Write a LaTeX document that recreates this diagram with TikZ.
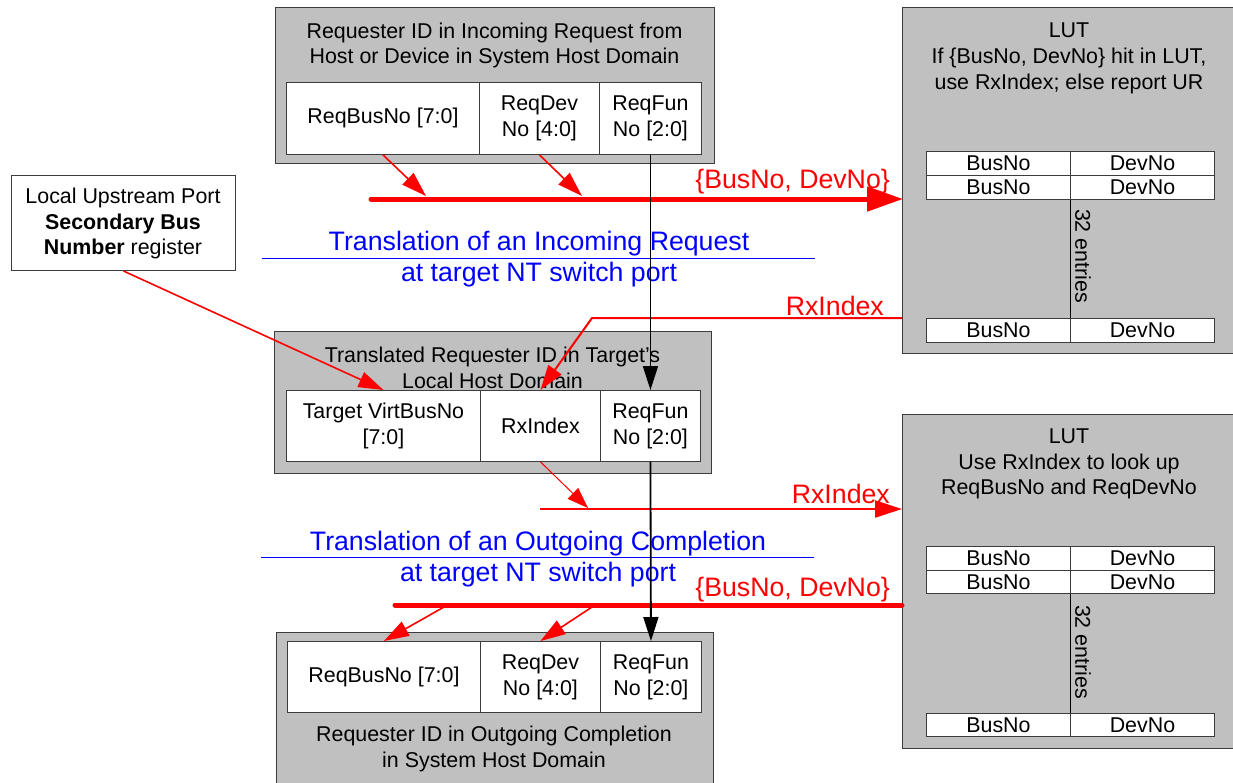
\documentclass[tikz,border=0pt]{standalone}
\usepackage{fontspec}
\setmainfont{Liberation Sans}
\usetikzlibrary{arrows.meta,calc}
\definecolor{lg}{RGB}{192,192,192}
\definecolor{bdr}{RGB}{60,60,60}
\begin{document}
\begin{tikzpicture}[x=1pt,y=-1pt,
  txt/.style={font=\fontsize{21.4}{25.8}\selectfont, align=center, inner sep=0pt},
  big/.style={font=\fontsize{26.7}{31}\selectfont, align=center, inner sep=0pt},
  graybox/.style={draw=bdr, line width=1.3pt, fill=lg, anchor=north west, inner sep=0pt},
  cell/.style={draw=bdr, line width=0.9pt, fill=white, anchor=north west, inner sep=0pt, align=center, font=\fontsize{21.4}{25.8}\selectfont},
  lutcell/.style={cell, minimum width=144pt},
  bus/.style={draw=red, line width=5pt, line cap=round},
  ra/.style={draw=red, line width=1.6pt, -{Triangle[length=25pt,width=16pt]}},
  rthin/.style={draw=red, line width=1pt, -{Triangle[length=21pt,width=15pt]}},
  blk/.style={draw=black, line width=1.8pt, -{Triangle[length=24pt,width=15pt]}},
  sep/.style={draw=blue, line width=1pt},
  redlbl/.style={big, text=red, anchor=east},
  bluelbl/.style={big, text=blue}
]
\useasboundingbox (0,0) rectangle (1233,782);
\clip (0,0) rectangle (1233,782);

% ---------- top box ----------
\node[graybox, minimum width=439pt, minimum height=156pt] (topbox) at (275,7) {};
\node[txt] (toptitle) at (494.5,45.5) {Requester ID in Incoming Request from\\Host or Device in System Host Domain};
\node[cell, minimum width=193pt, minimum height=72pt] (tBus) at (286,82) {ReqBusNo [7:0]};
\node[cell, minimum width=120pt, minimum height=72pt] (tDev) at (479,82) {ReqDev\\No [4:0]};
\node[cell, minimum width=102pt, minimum height=72pt] (tFun) at (599,82) {ReqFun\\No [2:0]};

% ---------- middle box ----------
\node[graybox, minimum width=437pt, minimum height=142pt] (midbox) at (274,331) {};
\node[txt] (midtitle) at (492.5,367.5) {Translated Requester ID in Target's\\Local Host Domain};
\node[cell, minimum width=194pt, minimum height=71pt] (mBus) at (286,390) {Target VirtBusNo\\{[7:0]}};
\node[cell, minimum width=120pt, minimum height=71pt] (mIdx) at (480,390) {RxIndex};
\node[cell, minimum width=100pt, minimum height=71pt] (mFun) at (600,390) {ReqFun\\No [2:0]};

% ---------- bottom box ----------
\node[graybox, minimum width=437pt, minimum height=200pt] (botbox) at (276,632) {};
\node[cell, minimum width=193pt, minimum height=71pt] (bBus) at (287,641) {ReqBusNo [7:0]};
\node[cell, minimum width=120pt, minimum height=71pt] (bDev) at (480,641) {ReqDev\\No [4:0]};
\node[cell, minimum width=101pt, minimum height=71pt] (bFun) at (600,641) {ReqFun\\No [2:0]};
\node[txt] (bottitle) at (494,749) {Requester ID in Outgoing Completion\\in System Host Domain};

% ---------- left register box ----------
\node[draw=bdr, line width=1pt, fill=white, anchor=north west, minimum width=224pt, minimum height=95pt, inner sep=0pt] (sec) at (11,175) {};
\node[txt] (sectxt) at (123,223.5) {Local Upstream Port\\\textbf{Secondary Bus}\\\textbf{Number} register};

% ---------- LUT 1 ----------
\node[graybox, minimum width=340pt, minimum height=346pt] (lut1) at (902,7) {};
\node[txt] (lut1title) at (1069,58.5) {LUT\\If \{BusNo, DevNo\} hit in LUT,\\use RxIndex; else report UR};
\node[lutcell, minimum height=24pt] (l1b1) at (926,151) {BusNo};
\node[lutcell, minimum height=24pt] (l1d1) at (1070,151) {DevNo};
\node[lutcell, minimum height=24pt] (l1b2) at (926,175) {BusNo};
\node[lutcell, minimum height=24pt] (l1d2) at (1070,175) {DevNo};
\node[lutcell, minimum height=24pt] (l1b3) at (926,318) {BusNo};
\node[lutcell, minimum height=24pt] (l1d3) at (1070,318) {DevNo};
\draw[line width=0.9pt] (l1b2.south east) -- (l1b3.north east);
\node[txt, rotate=-90] (l1n) at (1083,256) {32 entries};

% ---------- LUT 2 ----------
\node[graybox, minimum width=340pt, minimum height=334pt] (lut2) at (902,414) {};
\node[txt] (lut2title) at (1069,464) {LUT\\Use RxIndex to look up\\ReqBusNo and ReqDevNo};
\node[lutcell, minimum height=24pt] (l2b1) at (926,546) {BusNo};
\node[lutcell, minimum height=24pt] (l2d1) at (1070,546) {DevNo};
\node[lutcell, minimum height=23pt] (l2b2) at (926,570) {BusNo};
\node[lutcell, minimum height=23pt] (l2d2) at (1070,570) {DevNo};
\node[lutcell, minimum height=23pt] (l2b3) at (926,713) {BusNo};
\node[lutcell, minimum height=23pt] (l2d3) at (1070,713) {DevNo};
\draw[line width=0.9pt] (l2b2.south east) -- (l2b3.north east);
\node[txt, rotate=-90] (l2n) at (1083,652) {32 entries};

% ---------- blue captions ----------
\node[bluelbl] (cap1) at (539,259) {Translation of an Incoming Request\\at target NT switch port};
\coordinate (s1a) at (262,258);
\coordinate (s1b) at (815,258);
\draw[sep] (s1a) -- (s1b);
\node[bluelbl] (cap2) at (538,559) {Translation of an Outgoing Completion\\at target NT switch port};
\coordinate (s2a) at (261,557);
\coordinate (s2b) at (814,557);
\draw[sep] (s2a) -- (s2b);

% ---------- red labels ----------
\node[redlbl] (lblA) at (890,182) {\{BusNo, DevNo\}};
\node[redlbl] (lblB) at (884,306) {RxIndex};
\node[redlbl] (lblC) at (890,494) {RxIndex};
\node[redlbl] (lblD) at (890,590) {\{BusNo, DevNo\}};

% ---------- connectors ----------
\coordinate (busA) at (371,199);
\draw[bus, -{Triangle[length=36pt,width=24pt]}, shorten >=-1pt] (busA) -- (busA -| lut1.west);
\coordinate (tipA1) at (426,196);
\coordinate (tipA2) at (582,196);
\draw[ra] ($(tBus.south west)+(97,0)$) -- (tipA1);
\draw[ra] (tDev.south) -- (tipA2);

\draw[ra] (sec.south) -- (mBus.north);

\coordinate (rxA) at (592,318);
\draw[draw=red, line width=2pt, -{Triangle[length=25pt,width=16pt]}] (lut1.west |- rxA) -- (rxA) -- (mIdx.north);

\coordinate (rxL) at (540,509);
\coordinate (rxT) at (588,508);
\draw[draw=red, line width=2.2pt, -{Triangle[length=27pt,width=17pt]}] (rxL) -- (rxL -| lut2.west);
\draw[rthin] (mIdx.south) -- (rxT);

\coordinate (busB) at (395,605);
\draw[bus] (busB) -- (busB -| lut2.west);
\coordinate (bsA) at (444,607);
\coordinate (bsB) at (592,607);
\draw[ra] (bsA) -- (bBus.north);
\draw[ra] (bsB) -- (bDev.north);

\draw[blk] (tFun.south) -- (mFun.north);
\draw[blk] (mFun.south) -- (bFun.north);
\end{tikzpicture}
\end{document}
